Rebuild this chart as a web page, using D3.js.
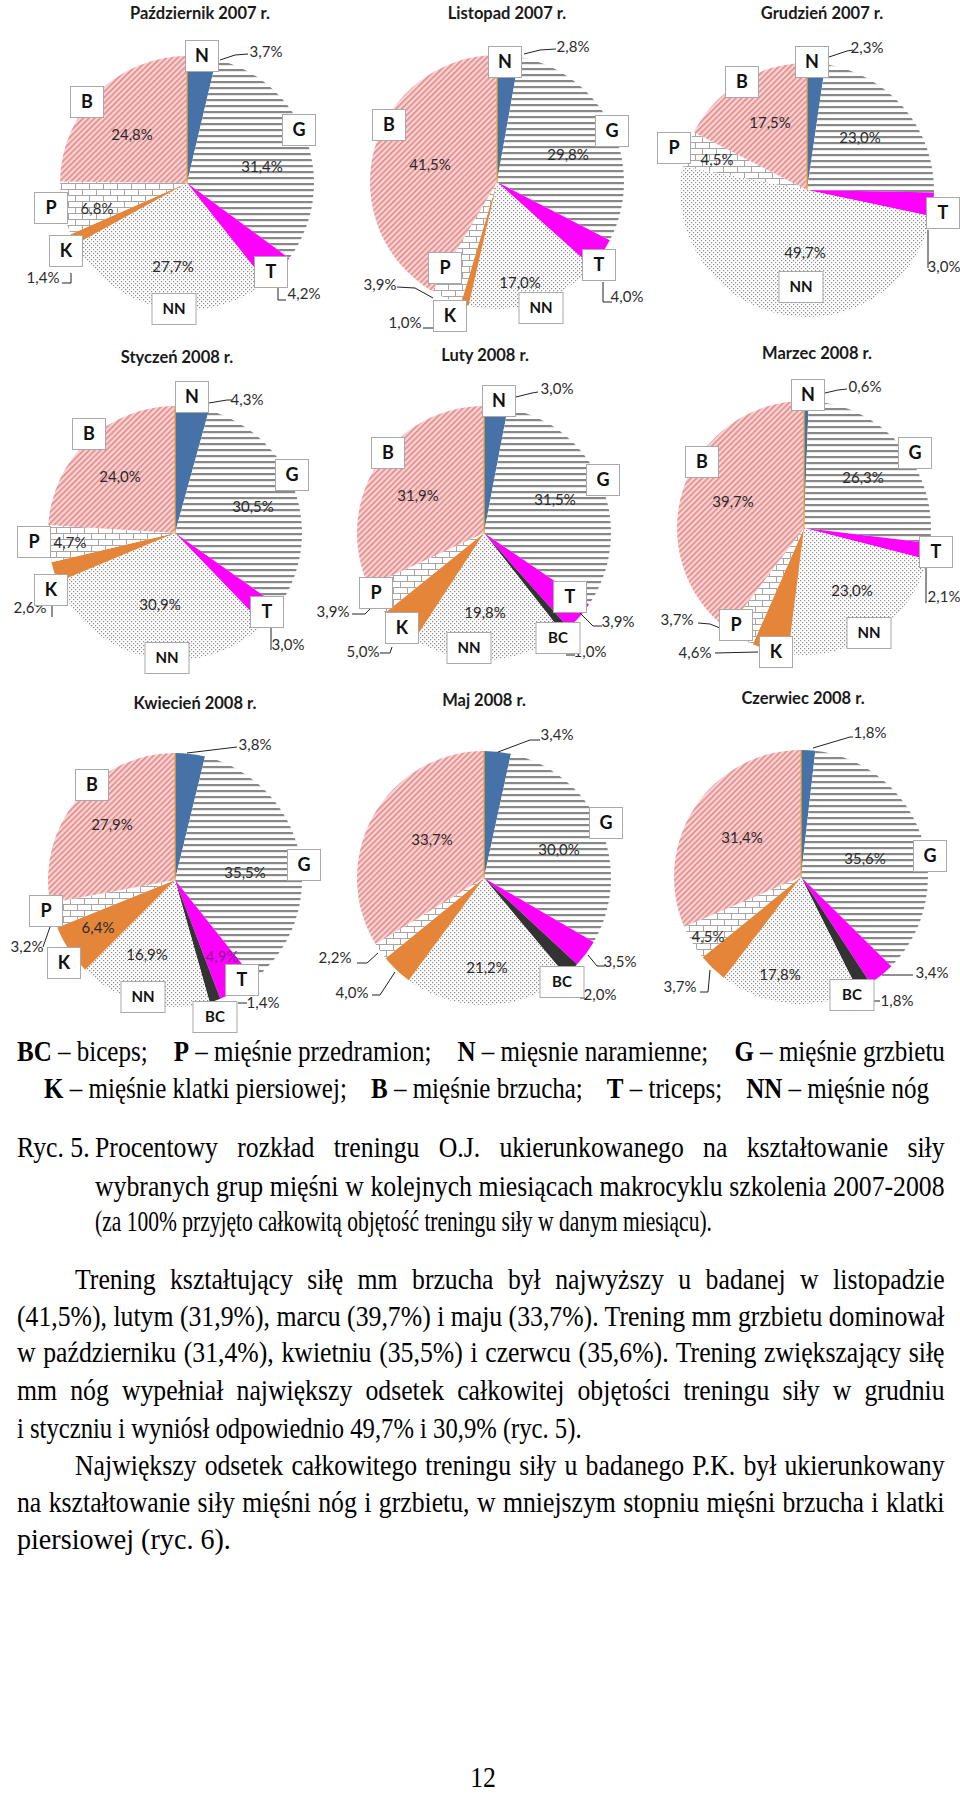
<!DOCTYPE html>
<html><head><meta charset="utf-8">
<script src="https://cdn.jsdelivr.net/npm/d3@7"></script>
<style>body{margin:0;background:#fff} svg{display:block}</style>
</head><body>
<svg id="c" width="960" height="1811"></svg>
<script>
// ---------------- DATA ----------------
const categories = ["N","G","T","BC","NN","K","P","B"];
const chartTitles = ["Październik 2007 r.","Listopad 2007 r.","Grudzień 2007 r.",
  "Styczeń 2008 r.","Luty 2008 r.","Marzec 2008 r.",
  "Kwiecień 2008 r.","Maj 2008 r.","Czerwiec 2008 r."];
//                N     G     T    BC    NN    K    P     B
const oct2007 = [3.7, 31.4, 4.2, 0,   27.7, 1.4, 6.8, 24.8];
const nov2007 = [2.8, 29.8, 4.0, 0,   17.0, 1.0, 3.9, 41.5];
const dec2007 = [2.3, 23.0, 3.0, 0,   49.7, 0,   4.5, 17.5];
const jan2008 = [4.3, 30.5, 3.0, 0,   30.9, 2.6, 4.7, 24.0];
const feb2008 = [3.0, 31.5, 3.9, 1.0, 19.8, 5.0, 3.9, 31.9];
const mar2008 = [0.6, 26.3, 2.1, 0,   23.0, 4.6, 3.7, 39.7];
const apr2008 = [3.8, 35.5, 4.9, 1.4, 16.9, 6.4, 3.2, 27.9];
const may2008 = [3.4, 30.0, 3.5, 2.0, 21.2, 4.0, 2.2, 33.7];
const jun2008 = [1.8, 35.6, 3.4, 1.8, 17.8, 3.7, 4.5, 31.4];
const monthlyValues = [oct2007, nov2007, dec2007, jan2008, feb2008, mar2008, apr2008, may2008, jun2008];

const legendLine1 = [["BC"," – biceps;"],["P"," – mięśnie przedramion;"],["N"," – mięsnie naramienne;"],["G"," – mięśnie grzbietu"]];
const legendLine2 = [["K"," – mięśnie klatki piersiowej;"],["B"," – mięśnie brzucha;"],["T"," – triceps;"],["NN"," – mięśnie nóg"]];
const captionLabel = "Ryc. 5.";
const captionLines = [
  "Procentowy rozkład treningu O.J. ukierunkowanego na kształtowanie siły",
  "wybranych grup mięśni w kolejnych miesiącach makrocyklu szkolenia 2007-2008",
  "(za 100% przyjęto całkowitą objętość treningu siły w danym miesiącu)."
];
const bodyLines = [
  "Trening kształtujący siłę mm brzucha był najwyższy u badanej w listopadzie",
  "(41,5%), lutym (31,9%), marcu (39,7%) i maju (33,7%). Trening mm grzbietu dominował",
  "w październiku (31,4%), kwietniu (35,5%) i czerwcu (35,6%). Trening zwiększający siłę",
  "mm nóg wypełniał największy odsetek całkowitej objętości treningu siły w grudniu",
  "i styczniu i wyniósł odpowiednio 49,7% i 30,9% (ryc. 5).",
  "Największy odsetek całkowitego treningu siły u badanego P.K. był ukierunkowany",
  "na kształtowanie siły mięśni nóg i grzbietu, w mniejszym stopniu mięśni brzucha i klatki",
  "piersiowej (ryc. 6)."
];
const pageNumber = "12";

// ---------------- LAYOUT (annotation placement, relative to pie centre) ----------------
const layout = [
 {c:[187,183], t:[200,13], L:{
   N:{box:[15,-127], pct:[79,-131], lead:[[33,-123],[48,-128],[61,-129]]},
   G:{box:[112,-53], pct:[75,-16]},
   T:{box:[84,89], pct:[117,111], lead:[[91,105],[91,117],[99,117]]},
   NN:{box:[-13,126], pct:[-14,84]},
   K:{box:[-121,68], pct:[-144,95], lead:[[-125,100],[-116,100],[-116,90]]},
   P:{box:[-136,25], pct:[-90,26]},
   B:{box:[-100,-81], pct:[-55,-48]}}},
 {c:[497,182], t:[507,13], L:{
   N:{box:[8,-120], pct:[76,-135], lead:[[27,-128],[43,-132],[59,-133]]},
   G:{box:[115,-51], pct:[71,-27]},
   T:{box:[102,83], pct:[130,115], lead:[[106,100],[106,120],[115,120]]},
   NN:{box:[44,126], pct:[23,101]},
   K:{box:[-47,134], pct:[-92,141], lead:[[-74,146],[-64,146]]},
   P:{box:[-52,86], pct:[-117,103], lead:[[-100,105],[-82,106],[-64,116]]},
   B:{box:[-108,-57], pct:[-67,-17]}}},
 {c:[807,190], t:[822,13], L:{
   N:{box:[5,-128], pct:[60,-142], lead:[[22,-133],[40,-139],[46,-140]]},
   G:{pct:[53,-52]},
   T:{box:[136,23], pct:[137,77], lead:[[121,40],[121,78]]},
   NN:{box:[-6,97], pct:[-2,63]},
   P:{box:[-133,-42], pct:[-90,-30]},
   B:{box:[-65,-108], pct:[-37,-67]}}},
 {c:[175,533], t:[177,357], L:{
   N:{box:[17,-136], pct:[72,-133], lead:[[34,-130],[52,-133],[57,-133]]},
   G:{box:[117,-58], pct:[78,-26]},
   T:{box:[92,79], pct:[113,112], lead:[[96,95],[96,117]]},
   NN:{box:[-8,125], pct:[-15,72]},
   K:{box:[-124,57], pct:[-145,75], lead:[[-123,70],[-123,84]]},
   P:{box:[-141,9], pct:[-105,10]},
   B:{box:[-86,-99], pct:[-55,-56]}}},
 {c:[484,533], t:[485,355], L:{
   N:{box:[15,-132], pct:[73,-144], lead:[[32,-136],[48,-140],[54,-141]]},
   G:{box:[119,-53], pct:[71,-33]},
   T:{box:[86,64], pct:[134,89], lead:[[95,79],[109,93],[118,93]]},
   BC:{box:[74,105], pct:[106,119], lead:[[82,122],[91,122]]},
   NN:{box:[-15,115], pct:[1,80]},
   K:{box:[-82,95], pct:[-121,119], lead:[[-104,120],[-94,120],[-92,114]]},
   P:{box:[-108,60], pct:[-151,79], lead:[[-132,81],[-119,81],[-114,76]]},
   B:{box:[-96,-80], pct:[-66,-37]}}},
 {c:[804,528], t:[817,353], L:{
   N:{box:[4,-133], pct:[61,-141], lead:[[21,-135],[34,-138],[43,-139]]},
   G:{box:[111,-75], pct:[59,-50]},
   T:{box:[132,24], pct:[140,69], lead:[[122,40],[122,75]]},
   NN:{box:[65,105], pct:[48,63]},
   K:{box:[-28,124], pct:[-109,125], lead:[[-89,125],[-46,124]]},
   P:{box:[-68,97], pct:[-127,92], lead:[[-106,95],[-94,96],[-84,100]]},
   B:{box:[-102,-66], pct:[-71,-26]}}},
 {c:[175,880], t:[195,703], L:{
   N:{pct:[80,-135], lead:[[12,-127],[62,-133]]},
   G:{box:[129,-15], pct:[70,-7]},
   T:{box:[67,100], pct:[47,77], color:"#8b1a8b"},
   BC:{box:[40,137], pct:[88,123], lead:[[63,123],[72,123]]},
   NN:{box:[-32,117], pct:[-28,75]},
   K:{box:[-111,83], pct:[-77,48]},
   P:{box:[-129,31], pct:[-148,67], lead:[[-132,67],[-125,47]]},
   B:{box:[-83,-95], pct:[-63,-55]}}},
 {c:[484,878], t:[484,700], L:{
   N:{pct:[73,-143], lead:[[14,-126],[46,-138],[56,-138]]},
   G:{box:[122,-55], pct:[75,-28]},
   T:{pct:[136,84], lead:[[104,77],[113,88],[121,88]]},
   BC:{box:[78,104], pct:[116,117], lead:[[93,115],[96,120],[101,120]]},
   NN:{pct:[3,90]},
   K:{pct:[-132,115], lead:[[-112,117],[-104,117],[-89,94]]},
   P:{pct:[-149,80], lead:[[-127,85],[-117,85],[-106,75]]},
   B:{pct:[-52,-38]}}},
 {c:[801,877], t:[803,698], L:{
   N:{pct:[69,-144], lead:[[12,-129],[49,-140],[52,-140]]},
   G:{box:[129,-21], pct:[64,-18]},
   T:{pct:[131,96], lead:[[81,98],[112,98]]},
   BC:{box:[51,118], pct:[96,124], lead:[[72,124],[79,124]]},
   NN:{pct:[-21,98]},
   K:{pct:[-121,110], lead:[[-101,115],[-93,115],[-91,93]]},
   P:{pct:[-93,60]},
   B:{pct:[-59,-39]}}}
];

// ---------------- DRAW ----------------
const svg = d3.select("#c");
const defs = svg.append("defs");

const pG = defs.append("pattern").attr("id","pG").attr("patternUnits","userSpaceOnUse").attr("width",8).attr("height",6);
pG.append("rect").attr("width",8).attr("height",6).attr("fill","#fff");
pG.append("rect").attr("width",8).attr("height",2.2).attr("fill","#888");

const pB = defs.append("pattern").attr("id","pB").attr("patternUnits","userSpaceOnUse").attr("width",4).attr("height",4).attr("patternTransform","rotate(-45)");
pB.append("rect").attr("width",4).attr("height",4).attr("fill","#f8d4d4");
pB.append("rect").attr("width",4).attr("height",1.6).attr("fill","#e48888");

const pNN = defs.append("pattern").attr("id","pNN").attr("patternUnits","userSpaceOnUse").attr("width",4).attr("height",4);
pNN.append("rect").attr("width",4).attr("height",4).attr("fill","#fff");
pNN.append("rect").attr("x",0).attr("y",0).attr("width",1.2).attr("height",1.2).attr("fill","#8a8a8a");
pNN.append("rect").attr("x",2).attr("y",2).attr("width",1.2).attr("height",1.2).attr("fill","#8a8a8a");

const pP = defs.append("pattern").attr("id","pP").attr("patternUnits","userSpaceOnUse").attr("width",14).attr("height",12);
pP.append("rect").attr("width",14).attr("height",12).attr("fill","#fff");
pP.append("path").attr("d","M0,0.5H14M0,6.5H14M0.5,0V6.5M7.5,6.5V12").attr("stroke","#a6a6a6").attr("stroke-width",1).attr("fill","none");

const fills = {N:"#4672a8", G:"url(#pG)", T:"#ff00ff", BC:"#333333", NN:"url(#pNN)", K:"#e4853a", P:"url(#pP)", B:"url(#pB)"};

const R = 127;
const pie = d3.pie().sort(null).value(d => d).startAngle(0).endAngle(2*Math.PI);
const arc = d3.arc().innerRadius(0).outerRadius(R);
const fmt = v => d3.format(".1f")(v).replace(".", ",") + "%";
const line = d3.line();

monthlyValues.forEach((vals, i) => {
  const L = layout[i];
  svg.append("text")
    .attr("x", L.t[0]).attr("y", L.t[1]).attr("dy","0.36em")
    .attr("text-anchor","middle")
    .attr("font-family","Lato, 'Open Sans', sans-serif").attr("font-weight","bold")
    .attr("font-size",16.5).attr("fill","#1a1a1a")
    .text(chartTitles[i]);

  const g = svg.append("g").attr("transform", `translate(${L.c[0]},${L.c[1]})`);
  const arcs = pie(vals);
  g.selectAll("path.slice").data(arcs.filter(a => a.value > 0)).join("path")
    .attr("class","slice")
    .attr("d", arc)
    .attr("fill", d => fills[categories[d.index]]);
  const a0 = arcs[0].startAngle;
  g.append("line").attr("x1",0).attr("y1",0)
    .attr("x2", R*Math.sin(a0)).attr("y2", -R*Math.cos(a0))
    .attr("stroke","#efa93a").attr("stroke-width",1.3);

  categories.forEach((cat, k) => {
    const lab = L.L[cat];
    if (!lab || vals[k] <= 0 || !lab.lead) return;
    g.append("path").attr("d", line(lab.lead)).attr("fill","none")
      .attr("stroke","#222").attr("stroke-width",1);
  });
  categories.forEach((cat, k) => {
    const lab = L.L[cat];
    if (!lab || vals[k] <= 0) return;
    if (lab.pct) {
      g.append("text").attr("x", lab.pct[0]).attr("y", lab.pct[1]).attr("dy","0.36em")
        .attr("text-anchor","middle")
        .attr("font-family","Lato, 'Open Sans', sans-serif").attr("font-size",15)
        .attr("fill", lab.color || "#2b2b2b")
        .text(fmt(vals[k]));
    }
    if (lab.box) {
      const w = cat.length === 1 ? 33 : 44, h = 31;
      g.append("rect").attr("x", lab.box[0]-w/2).attr("y", lab.box[1]-h/2)
        .attr("width", w).attr("height", h)
        .attr("fill","#fff").attr("stroke","#a9a9a9").attr("stroke-width",1);
      g.append("text").attr("x", lab.box[0]).attr("y", lab.box[1]).attr("dy","0.36em")
        .attr("text-anchor","middle")
        .attr("font-family","Lato, 'Open Sans', sans-serif").attr("font-weight","bold")
        .attr("font-size", cat.length === 1 ? 18 : 15).attr("fill","#111")
        .text(cat);
    }
  });
});

// ---------------- TEXT BLOCK ----------------
const FS = 30;
const tb = svg.append("g").attr("font-family","'Liberation Serif','Times New Roman',serif")
  .attr("font-size", FS).attr("fill","#000");

function mk(segs) {
  const t = tb.append("text");
  segs.forEach(([txt, bold]) => t.append("tspan").attr("font-weight", bold ? "bold" : "normal").text(txt));
  return t;
}
// [text, xStart, xEnd, yCentre, justify]
const bodySpec = [
  [captionLines[0], 95, 945, 1147, true],
  [captionLines[1], 95, 945, 1186, true],
  [captionLines[2], 95, 712, 1221, false],
  [bodyLines[0], 75, 945, 1279, true],
  [bodyLines[1], 17, 945, 1316, true],
  [bodyLines[2], 17, 945, 1352, true],
  [bodyLines[3], 17, 945, 1390, true],
  [bodyLines[4], 17, 582, 1428, false],
  [bodyLines[5], 75, 945, 1465, true],
  [bodyLines[6], 17, 945, 1502, true],
  [bodyLines[7], 17, 231, 1539, false]
];
const items = bodySpec.map(s => {
  const t = mk([[s[0], false]]);
  return {t, w0: t.node().getComputedTextLength(), spec: s};
});
const sBody = d3.min(items.filter(d => d.spec[4] && d.spec[1] < 90), d => (d.spec[2]-d.spec[1]) / d.w0);
const base = yc => yc + 10;
items.forEach(({t, w0, spec}) => {
  const [txt, x0, x1, yc, just] = spec;
  const target = x1 - x0;
  let s = sBody;
  if (just) {
    const n = (txt.match(/ /g) || []).length;
    let ws = (target / s - w0) / n;
    if (ws < -3) { ws = -3; s = target / (w0 + n*ws); }
    t.attr("word-spacing", ws);
  } else {
    s = target / w0;
  }
  t.attr("transform", `translate(${x0},${base(yc)}) scale(${s},1)`);
});
mk([[captionLabel,false]]).attr("transform", `translate(17,${base(1147)}) scale(${sBody},1)`);

// legend: items spread across the line
const legendRows = [[legendLine1, 17, 945, 1051],[legendLine2, 44, 929, 1088]];
const legTexts = legendRows.map(([arr]) => arr.map(it => mk([[it[0], true],[it[1], false]])));
const legW = legTexts.map(row => row.map(t => t.node().getComputedTextLength()));
const gap0 = 26;
const sLeg = (928 - 3*gap0) / d3.sum(legW[0]);
legendRows.forEach(([arr, x0, x1, yc], r) => {
  const gap = ((x1 - x0) - sLeg * d3.sum(legW[r])) / (arr.length - 1);
  let x = x0;
  legTexts[r].forEach((t, j) => {
    t.attr("transform", `translate(${x},${base(yc)}) scale(${sLeg},1)`);
    x += legW[r][j] * sLeg + gap;
  });
});
tb.append("text").attr("transform", `translate(483,${base(1777)}) scale(${sBody},1)`)
  .attr("text-anchor","middle").text(pageNumber);
</script>
</body></html>
